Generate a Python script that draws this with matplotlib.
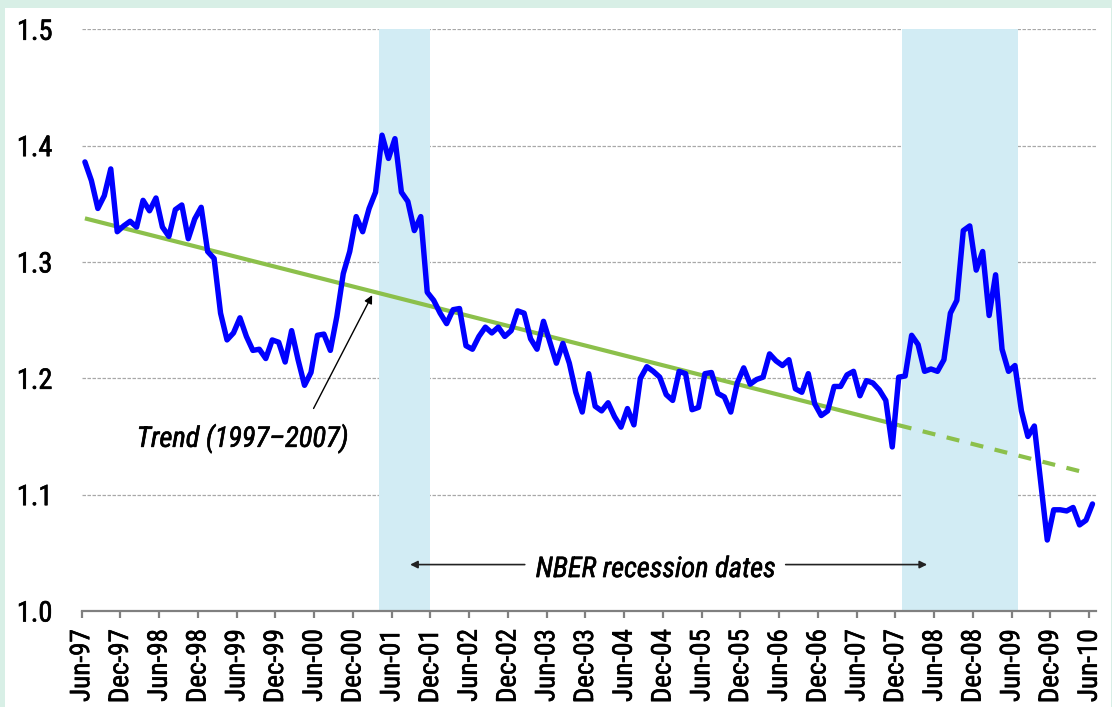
import matplotlib
matplotlib.use('Agg')
import matplotlib.pyplot as plt
from matplotlib.patches import Rectangle
import matplotlib.patheffects as pe
import numpy as np
import logging
logging.getLogger('matplotlib.font_manager').setLevel(logging.ERROR)

plt.rcParams['font.family'] = ['Roboto Condensed', 'Archivo Narrow', 'IBM Plex Sans Condensed',
                               'Fira Sans Condensed', 'Liberation Sans', 'DejaVu Sans']
plt.rcParams['lines.scale_dashes'] = False

# ---------------- data ----------------
# monthly values, Jun-1997 .. Jun-2010 (157 months)
ratio_values = [
    1.386, 1.370, 1.346, 1.357, 1.380, 1.326, 1.331, 1.335, 1.330, 1.353,
    1.344, 1.355, 1.330, 1.322, 1.345, 1.349, 1.320, 1.337, 1.347, 1.309,
    1.303, 1.256, 1.233, 1.239, 1.252, 1.236, 1.224, 1.225, 1.217, 1.233,
    1.231, 1.214, 1.241, 1.216, 1.194, 1.205, 1.237, 1.238, 1.224, 1.253,
    1.290, 1.309, 1.339, 1.326, 1.346, 1.360, 1.409, 1.389, 1.406, 1.360,
    1.352, 1.327, 1.339, 1.274, 1.267, 1.256, 1.247, 1.259, 1.260, 1.228,
    1.225, 1.236, 1.244, 1.239, 1.244, 1.236, 1.241, 1.258, 1.256, 1.234,
    1.225, 1.249, 1.231, 1.213, 1.230, 1.213, 1.188, 1.171, 1.204, 1.176,
    1.172, 1.179, 1.167, 1.158, 1.174, 1.160, 1.200, 1.210, 1.206, 1.201,
    1.186, 1.181, 1.206, 1.204, 1.173, 1.175, 1.204, 1.205, 1.187, 1.184,
    1.171, 1.196, 1.209, 1.195, 1.199, 1.201, 1.221, 1.215, 1.211, 1.216,
    1.191, 1.188, 1.204, 1.178, 1.168, 1.172, 1.193, 1.193, 1.203, 1.206,
    1.185, 1.198, 1.196, 1.190, 1.181, 1.141, 1.201, 1.202, 1.237, 1.229,
    1.206, 1.208, 1.206, 1.216, 1.256, 1.267, 1.327, 1.331, 1.293, 1.309,
    1.254, 1.289, 1.225, 1.206, 1.211, 1.172, 1.150, 1.159, 1.110, 1.061,
    1.087, 1.087, 1.086, 1.089, 1.074, 1.078, 1.092,
]

# trend (1997-2007): fitted part (solid) and extrapolation (dashed), month indices
trend_fit_months = [0, 126]
trend_fit_values = [1.3375, 1.1597]
trend_ext_months = [126, 155]
trend_ext_values = [1.1597, 1.1188]

# NBER recession months (first and last month index, inclusive)
recessions = [(46, 53), (127, 144)]

tick_labels = ['Jun-97', 'Dec-97', 'Jun-98', 'Dec-98', 'Jun-99', 'Dec-99',
               'Jun-00', 'Dec-00', 'Jun-01', 'Dec-01', 'Jun-02', 'Dec-02',
               'Jun-03', 'Dec-03', 'Jun-04', 'Dec-04', 'Jun-05', 'Dec-05',
               'Jun-06', 'Dec-06', 'Jun-07', 'Dec-07', 'Jun-08', 'Dec-08',
               'Jun-09', 'Dec-09', 'Jun-10']
y_ticks = [1.0, 1.1, 1.2, 1.3, 1.4, 1.5]
y_tick_labels = ['1.0', '1.1', '1.2', '1.3', '1.4', '1.5']

# ---------------- figure ----------------
W, H = 1112, 707
fig = plt.figure(figsize=(W / 100, H / 100), dpi=100)
fig.patch.set_facecolor('#d8efe6')
fig.add_artist(Rectangle((5 / W, 0), (1111 - 5) / W, (H - 8) / H,
                         transform=fig.transFigure, facecolor='white',
                         edgecolor='none', zorder=0))

ax = fig.add_axes([81.7 / W, (H - 611) / H, (1095.7 - 81.7) / W, (611 - 29.3) / H])
ax.set_facecolor('none')
n = len(ratio_values)
ax.set_xlim(0, n)
ax.set_ylim(1.0, 1.5)

# grid
ax.set_axisbelow(True)
ax.set_yticks(y_ticks)
ax.set_yticklabels(y_tick_labels)
ax.grid(axis='y', color='#a8a8a8', linewidth=0.9, linestyle=(0, (2.5, 1.1)))
ax.grid(axis='x', visible=False)

# recession shading
for s, e in recessions:
    ax.axvspan(s, e + 1, facecolor='#d2ecf4', edgecolor='none', zorder=1)

x = np.arange(n) + 0.5
ax.plot(x, ratio_values, color='#0000ff', linewidth=3.9, solid_joinstyle='round',
        solid_capstyle='round', zorder=4)

ax.plot(np.array(trend_fit_months) + 0.5, trend_fit_values, color='#8cc04b',
        linewidth=3.0, solid_capstyle='butt', zorder=3)
ax.plot(np.array(trend_ext_months) + 0.5, trend_ext_values, color='#8cc04b',
        linewidth=3.0, dashes=(9.4, 8.4), dash_capstyle='butt', zorder=3)

# axes styling
for sp in ['left', 'right', 'top']:
    ax.spines[sp].set_visible(False)
ax.spines['bottom'].set_color('#808080')
ax.spines['bottom'].set_linewidth(1.6)
ax.spines['bottom'].set_zorder(5)

bold = [pe.withStroke(linewidth=0.45, foreground='black')]

ax.set_xticks(np.arange(0, n, 6))
ax.set_xticklabels(tick_labels, rotation=90, fontsize=19.5)
ax.tick_params(axis='x', direction='out', length=5, width=1.6, color='#808080', pad=8)
ax.tick_params(axis='y', length=0, pad=21, labelsize=20.5)
for lab in ax.get_xticklabels() + ax.get_yticklabels():
    lab.set_path_effects(bold)

# annotations
ax.text(24.9, 1.1411, 'Trend (1997\u20132007)', style='italic', fontsize=20.5,
        ha='center', va='baseline', zorder=6, path_effects=bold)
ax.annotate('', xy=(44.97, 1.2715), xytext=(35.9, 1.1741),
            arrowprops=dict(arrowstyle='-|>', color='black', lw=1.0,
                            mutation_scale=12, shrinkA=0, shrinkB=0), zorder=6)

ax.text(88.9, 1.0292, 'NBER recession dates', style='italic', fontsize=20.5,
        ha='center', va='baseline', zorder=6, path_effects=bold)
ax.annotate('', xy=(50.85, 1.0399), xytext=(68.6, 1.0399),
            arrowprops=dict(arrowstyle='-|>', color='#222222', lw=1.2,
                            mutation_scale=11, shrinkA=0, shrinkB=0), zorder=6)
ax.annotate('', xy=(130.9, 1.0399), xytext=(109.0, 1.0399),
            arrowprops=dict(arrowstyle='-|>', color='#222222', lw=1.2,
                            mutation_scale=11, shrinkA=0, shrinkB=0), zorder=6)

fig.savefig('out.png', dpi=100, facecolor=fig.get_facecolor())
